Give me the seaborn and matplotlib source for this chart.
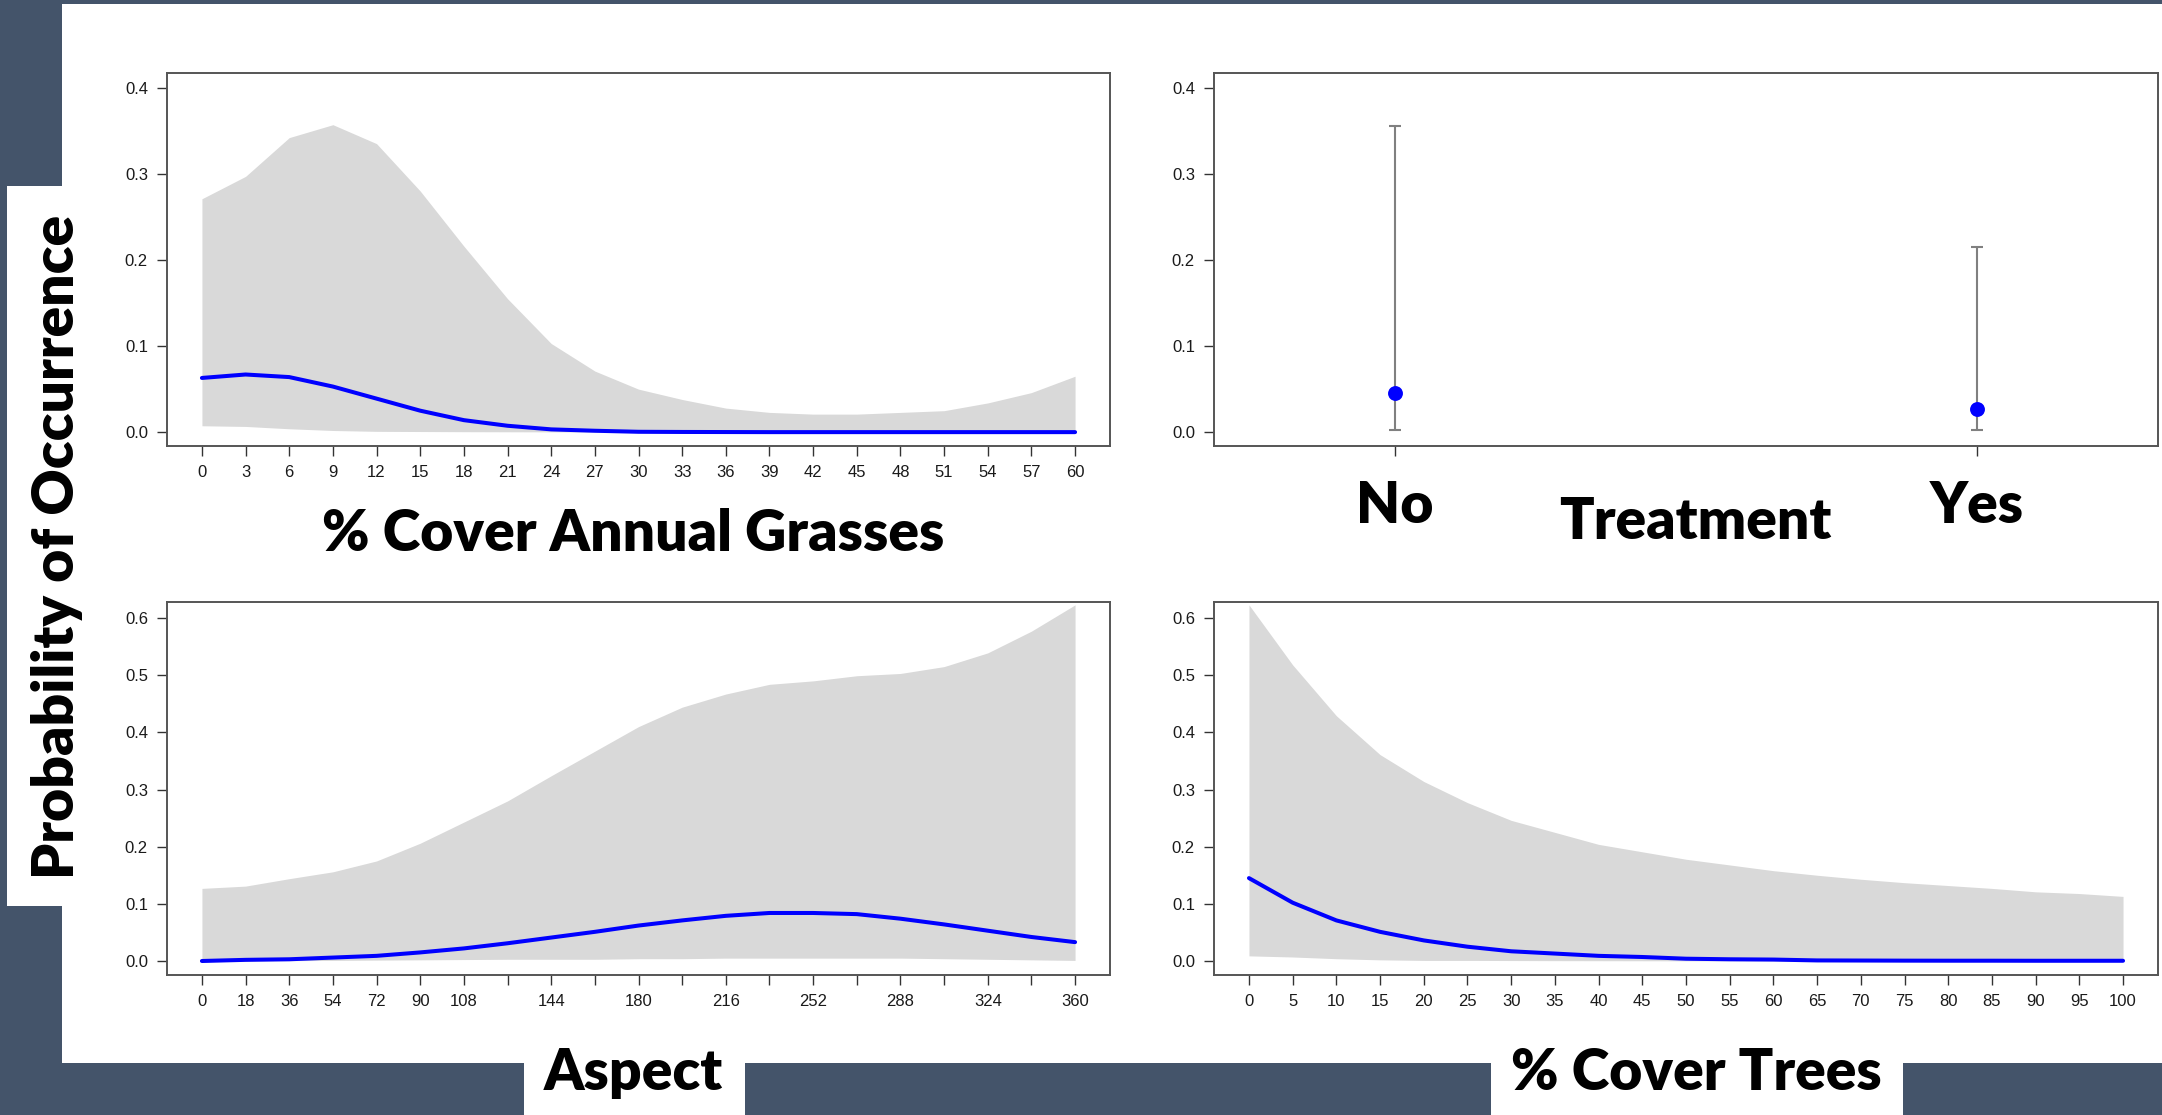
import numpy as np
import pandas as pd
import matplotlib
matplotlib.use("Agg")
import matplotlib.pyplot as plt
from matplotlib.patches import Rectangle
import seaborn as sns

# ---- data -------------------------------------------------------------
grass_x = list(range(0, 61, 3))
grass_upper = [0.271, 0.297, 0.342, 0.357, 0.335, 0.280, 0.216, 0.155, 0.103, 0.071, 0.050,
               0.038, 0.028, 0.023, 0.021, 0.021, 0.023, 0.025, 0.034, 0.046, 0.065]
grass_lower = [0.0075, 0.0067, 0.004, 0.002, 0.001, 0.0008, 0.0006, 0.0005, 0.0004, 0.0003, 0.0003,
               0.0002, 0.0002, 0.0002, 0.0002, 0.0002, 0.0002, 0.0002, 0.0002, 0.0002, 0.0002]
grass_mean = [0.063, 0.067, 0.064, 0.053, 0.039, 0.025, 0.014, 0.0075, 0.0033, 0.0017, 0.0005,
              0.0003, 0.0002, 0.0001, 0.0001, 0.0001, 0.0001, 0.0001, 0.0001, 0.0001, 0.0001]

treat_levels = ["No", "Yes"]
treat_mean = [0.046, 0.0275]
treat_lower = [0.002, 0.002]
treat_upper = [0.355, 0.215]

aspect_x = list(range(0, 361, 18))
aspect_tick_labels = ["0", "18", "36", "54", "72", "90", "108", "", "144", "", "180", "",
                      "216", "", "252", "", "288", "", "324", "", "360"]
aspect_upper = [0.127, 0.131, 0.144, 0.156, 0.175, 0.206, 0.243, 0.280, 0.324, 0.367, 0.410,
                0.444, 0.467, 0.484, 0.490, 0.499, 0.503, 0.515, 0.539, 0.577, 0.623]
aspect_lower = [0.0, 0.0003, 0.0006, 0.001, 0.0015, 0.002, 0.0025, 0.003, 0.003, 0.003, 0.004,
                0.004, 0.005, 0.005, 0.005, 0.005, 0.005, 0.004, 0.003, 0.002, 0.001]
aspect_mean = [0.0, 0.002, 0.003, 0.006, 0.009, 0.015, 0.022, 0.031, 0.041, 0.051, 0.062,
               0.071, 0.079, 0.084, 0.084, 0.082, 0.074, 0.064, 0.053, 0.042, 0.033]

trees_x = list(range(0, 101, 5))
trees_upper = [0.623, 0.518, 0.429, 0.361, 0.314, 0.277, 0.246, 0.225, 0.204, 0.191, 0.178,
               0.168, 0.158, 0.150, 0.143, 0.137, 0.132, 0.127, 0.121, 0.118, 0.113]
trees_lower = [0.009, 0.007, 0.004, 0.002, 0.001, 0.001, 0.0008, 0.0006, 0.0005, 0.0004, 0.0003,
               0.0003, 0.0002, 0.0002, 0.0002, 0.0002, 0.0002, 0.0002, 0.0002, 0.0002, 0.0002]
trees_mean = [0.145, 0.102, 0.071, 0.051, 0.036, 0.025, 0.017, 0.013, 0.009, 0.007, 0.004,
              0.003, 0.0025, 0.001, 0.0008, 0.0006, 0.0005, 0.0005, 0.0004, 0.0004, 0.0004]

# ---- style ------------------------------------------------------------
sns.set_style("ticks")
plt.rcParams["font.family"] = ["Liberation Sans", "DejaVu Sans"]

W, H = 2162, 1115
DPI = 100
SLATE = "#44546A"
BAND = "#D9D9D9"
LINE = "#0000FF"
SPINE = "#555555"
LABEL_FONT = ["Lato", "DejaVu Sans"]
LABEL_SIZE = 41
LABEL_WEIGHT = "heavy"

fig = plt.figure(figsize=(W / DPI, H / DPI), dpi=DPI, facecolor=SLATE)


def px_rect(x0, y0, x1, y1, **kw):
    """Rectangle given in pixel coords measured from the top-left corner."""
    r = Rectangle((x0 / W, 1 - y1 / H), (x1 - x0) / W, (y1 - y0) / H,
                  transform=fig.transFigure, zorder=-10, linewidth=0, **kw)
    fig.add_artist(r)


# white slide area and label tabs
px_rect(62, 4, W, 1063, facecolor="white")
px_rect(7, 186, 62, 906, facecolor="white")
px_rect(524, 1063, 745, H, facecolor="white")
px_rect(1491, 1063, 1903, H, facecolor="white")


def px_axes(x0, y0, x1, y1):
    return fig.add_axes([x0 / W, 1 - y1 / H, (x1 - x0) / W, (y1 - y0) / H])


ax_tl = px_axes(167, 73, 1110, 446)
ax_tr = px_axes(1214, 73, 2158, 446)
ax_bl = px_axes(167, 602, 1110, 975)
ax_br = px_axes(1214, 602, 2158, 975)


def style_axes(ax):
    for s in ax.spines.values():
        s.set_visible(True)
        s.set_color(SPINE)
        s.set_linewidth(1.4)
    ax.tick_params(axis="both", direction="out", length=7.2, width=1.0,
                   color="#333333", labelsize=12, labelcolor="#1a1a1a", pad=6.5)
    ax.set_facecolor("white")
    ax.set_xlabel("")
    ax.set_ylabel("")


def set_label(ax, text, x_px, baseline_px, top_px, bottom_px, left_px, right_px):
    ax.set_xlabel(text, fontsize=LABEL_SIZE, fontweight=LABEL_WEIGHT, family=LABEL_FONT,
                  color="black", va="baseline", ha="center")
    ax.xaxis.set_label_coords((x_px - left_px) / (right_px - left_px),
                              (bottom_px - baseline_px) / (bottom_px - top_px))


def curve_panel(ax, x, lower, upper, mean):
    df = pd.DataFrame({"x": x, "lower": lower, "upper": upper, "mean": mean})
    ax.fill_between(df["x"], df["lower"], df["upper"], color=BAND, linewidth=0, zorder=1)
    sns.lineplot(data=df, x="x", y="mean", ax=ax, color=LINE, linewidth=2.9, zorder=3)


# % Cover Annual Grasses
curve_panel(ax_tl, grass_x, grass_lower, grass_upper, grass_mean)
style_axes(ax_tl)
ax_tl.set_xlim(-2.4, 62.4)
ax_tl.set_ylim(-0.016, 0.417)
ax_tl.set_xticks(grass_x)
ax_tl.set_yticks([0.0, 0.1, 0.2, 0.3, 0.4])
ax_tl.set_yticklabels(["0.0", "0.1", "0.2", "0.3", "0.4"])
set_label(ax_tl, "% Cover Annual Grasses", 633, 551, 73, 446, 167, 1110)

# Treatment
treat_df = pd.DataFrame({"treatment": treat_levels, "mean": treat_mean,
                         "lower": treat_lower, "upper": treat_upper})
ax_tr.errorbar(treat_df["treatment"], treat_df["mean"],
               yerr=[treat_df["mean"] - treat_df["lower"], treat_df["upper"] - treat_df["mean"]],
               fmt="none", ecolor="#808080", elinewidth=1.5, capsize=4.3, capthick=1.5, zorder=2)
sns.scatterplot(data=treat_df, x="treatment", y="mean", ax=ax_tr, color=LINE,
                s=115, marker="o", edgecolor=LINE, linewidth=0, zorder=3)
style_axes(ax_tr)
ax_tr.set_xlim(-0.311, 1.311)
ax_tr.set_ylim(-0.016, 0.417)
ax_tr.set_yticks([0.0, 0.1, 0.2, 0.3, 0.4])
ax_tr.set_yticklabels(["0.0", "0.1", "0.2", "0.3", "0.4"])
ax_tr.set_xticks([0, 1])
ax_tr.set_xticklabels(treat_levels, fontsize=LABEL_SIZE, fontweight=LABEL_WEIGHT,
                      family=LABEL_FONT, color="black")
ax_tr.tick_params(axis="x", pad=17, labelcolor="black")
set_label(ax_tr, "Treatment", 1695, 539, 73, 446, 1214, 2158)

# Aspect
curve_panel(ax_bl, aspect_x, aspect_lower, aspect_upper, aspect_mean)
style_axes(ax_bl)
ax_bl.set_xlim(-14.4, 374.4)
ax_bl.set_ylim(-0.0245, 0.628)
ax_bl.set_xticks(aspect_x)
ax_bl.set_xticklabels(aspect_tick_labels)
ax_bl.set_yticks([0.0, 0.1, 0.2, 0.3, 0.4, 0.5, 0.6])
ax_bl.set_yticklabels(["0.0", "0.1", "0.2", "0.3", "0.4", "0.5", "0.6"])
set_label(ax_bl, "Aspect", 633, 1090, 602, 975, 167, 1110)

# % Cover Trees
curve_panel(ax_br, trees_x, trees_lower, trees_upper, trees_mean)
style_axes(ax_br)
ax_br.set_xlim(-4, 104)
ax_br.set_ylim(-0.0245, 0.628)
ax_br.set_xticks(trees_x)
ax_br.set_yticks([0.0, 0.1, 0.2, 0.3, 0.4, 0.5, 0.6])
ax_br.set_yticklabels(["0.0", "0.1", "0.2", "0.3", "0.4", "0.5", "0.6"])
set_label(ax_br, "% Cover Trees", 1696, 1090, 602, 975, 1214, 2158)

# shared y title
fig.text(57 / W, 1 - 547 / H, "Probability of Occurrence", rotation=90,
         ha="center", va="center", fontsize=LABEL_SIZE, fontweight=LABEL_WEIGHT,
         family=LABEL_FONT, color="black")

fig.savefig("out.png", dpi=DPI, facecolor=SLATE)
